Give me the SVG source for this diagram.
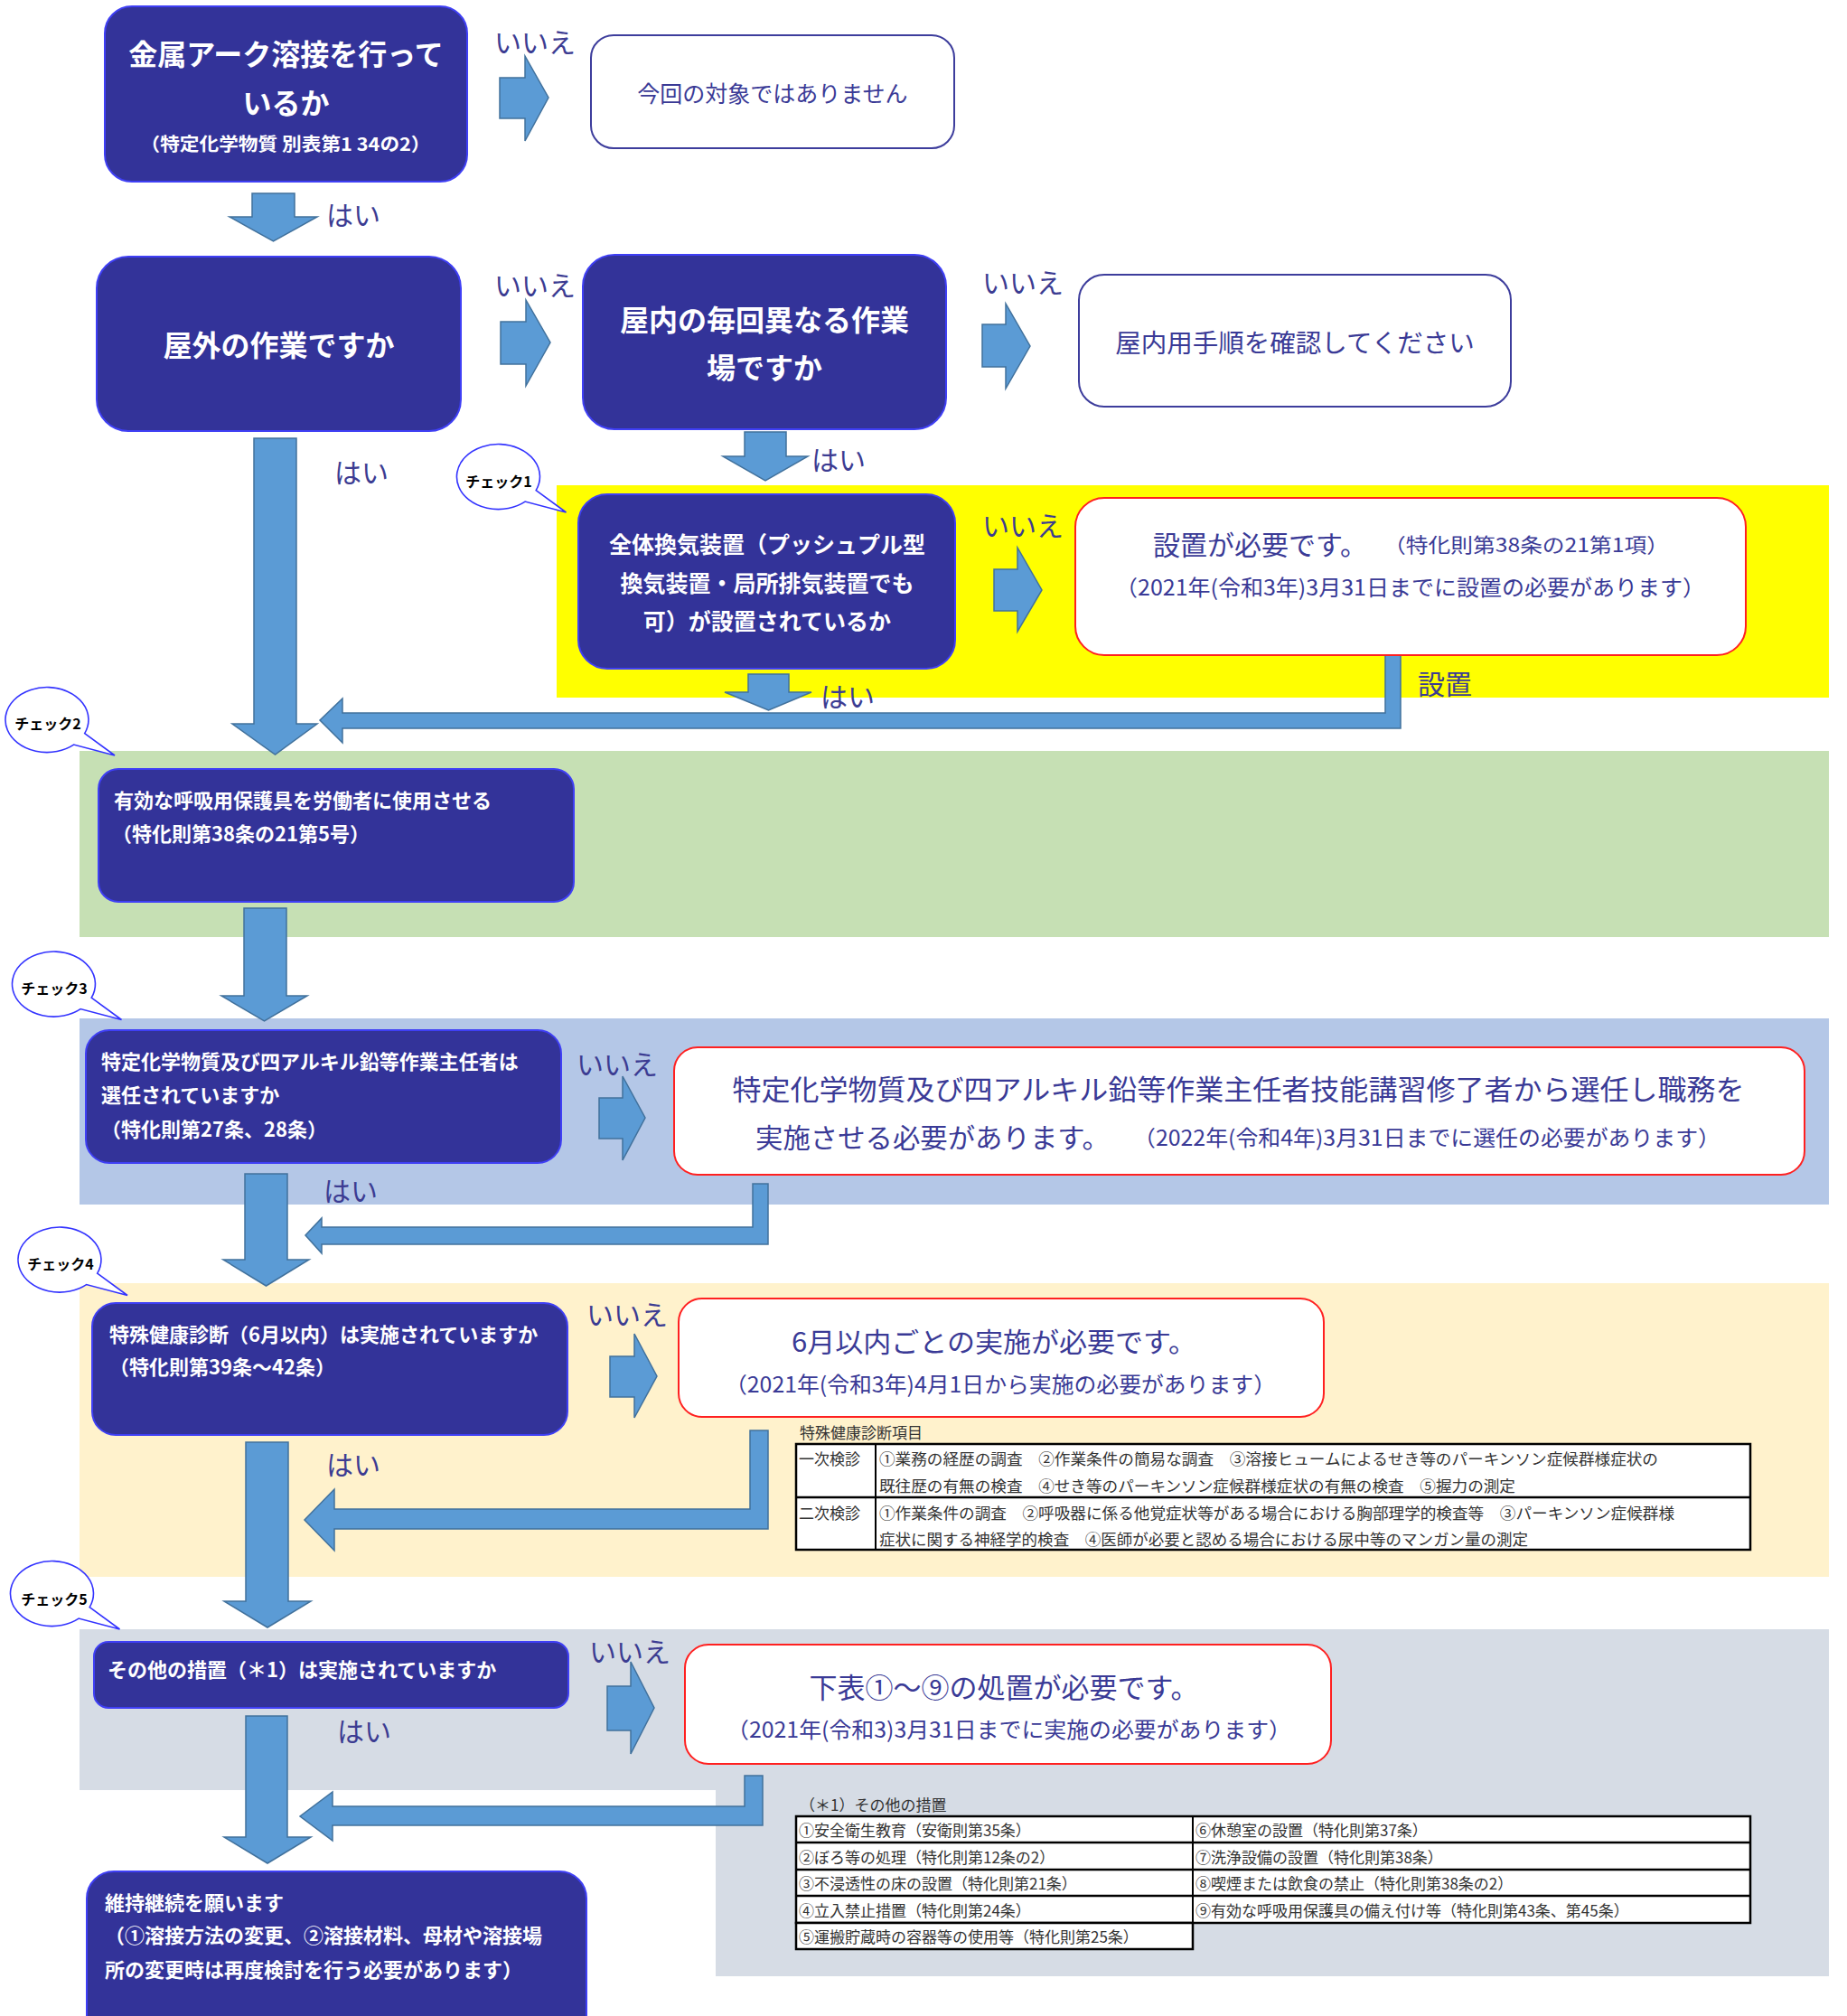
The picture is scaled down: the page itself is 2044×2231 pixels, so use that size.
<svg xmlns="http://www.w3.org/2000/svg" width="2044" height="2231" viewBox="0 0 2044 2231">
<style>
text{font-family:"Noto Sans CJK JP","Noto Sans",sans-serif;dominant-baseline:central}
.nb{fill:#333399;stroke:#3f3ff5;stroke-width:2}
.wb{fill:#fff;stroke:#3d3d9c;stroke-width:2}
.rb{fill:#fff;stroke:#ff2020;stroke-width:2}
.arr{fill:#5b9bd5;stroke:#41719c;stroke-width:1.5}
.wt{fill:#fff;font-weight:bold}
.bt{fill:#3a3a96}
.lb{fill:#3c3c92;font-size:30px}
.bub{fill:#fff;stroke:#3333ff;stroke-width:1.6}
.bubt{fill:#000;font-weight:bold;font-size:16px;text-anchor:middle}
.tb{fill:#fff;stroke:#000;stroke-width:2.5}
.tt{fill:#333;font-size:17px}
.m{text-anchor:middle}
</style>
<defs>
<path id="bubble" d="M41.7,15.2 L75,39.5 L29.6,27.6 A46,36 0 1 1 41.7,15.2 Z"/>
</defs>
<rect width="2044" height="2231" fill="#fff"/>
<g id="bands">
<rect x="616" y="537" width="1408" height="235" fill="#ffff00"/>
<rect x="88" y="831" width="1936" height="206" fill="#c6e0b4"/>
<rect x="88" y="1127" width="1936" height="206" fill="#b4c7e7"/>
<rect x="88" y="1420" width="1936" height="325" fill="#fff2cc"/>
<rect x="88" y="1803" width="1936" height="178" fill="#d6dce5"/>
<rect x="792" y="1803" width="1232" height="384" fill="#d6dce5"/>
</g>
<g id="connectors">
<polygon class="arr" points="553,86 581,86 581,62 607,108 581,156 581,131 553,131"/>
<polygon class="arr" points="279,214 326,214 326,240 351,240 302.5,267 254,240 279,240"/>
<polygon class="arr" points="554,356 582,356 582,332 609,379 582,427 582,403 554,403"/>
<polygon class="arr" points="1087,359 1113,359 1113,336 1140,383 1113,430 1113,406 1087,406"/>
<polygon class="arr" points="824,478 870,478 870,505 894,505 847,532 800,505 824,505"/>
<polygon class="arr" points="281,485 328,485 328,801 351,801 304.5,835 257,801 281,801"/>
<polygon class="arr" points="1100,630 1126,630 1126,606 1153,653 1126,699 1126,676 1100,676"/>
<polygon class="arr" points="828,746 873,746 873,766 898,766 850.5,786 802,766 828,766"/>
<polygon class="arr" points="1533,725 1550,725 1550,806 379,806 379,822 354,797 379,773 379,789 1533,789"/>
<polygon class="arr" points="270,1005 317,1005 317,1102 340,1102 292.5,1130 245,1102 270,1102"/>
<polygon class="arr" points="663,1215 689,1215 689,1191 714,1237 689,1284 689,1260 663,1260"/>
<polygon class="arr" points="271,1299 318,1299 318,1394 342,1394 294.5,1423 247,1394 271,1394"/>
<polygon class="arr" points="833,1310 850,1310 850,1377 356,1377 356,1387 338,1367 356,1348 356,1358 833,1358"/>
<polygon class="arr" points="675,1501 702,1501 702,1476 727,1523 702,1569 702,1546 675,1546"/>
<polygon class="arr" points="272,1596 319,1596 319,1772 344,1772 296,1801 248,1772 272,1772"/>
<polygon class="arr" points="830,1583 850,1583 850,1692 370,1692 370,1716 337,1682 370,1648 370,1670 830,1670"/>
<polygon class="arr" points="672,1866 698,1866 698,1839 724,1890 698,1941 698,1915 672,1915"/>
<polygon class="arr" points="272,1899 318,1899 318,2033 344,2033 296,2062 248,2033 272,2033"/>
<polygon class="arr" points="824,1965 844,1965 844,2020 368,2020 368,2037 332,2010 368,1983 368,1999 824,1999"/>
<text class="lb" x="547" y="45">いいえ</text>
<text class="lb" x="361" y="236">はい</text>
<text class="lb" x="547" y="314">いいえ</text>
<text class="lb" x="1087" y="311">いいえ</text>
<text class="lb" x="370" y="521">はい</text>
<text class="lb" x="898" y="507">はい</text>
<text class="lb" x="1087" y="580">いいえ</text>
<text class="lb" x="908" y="769">はい</text>
<text class="lb" x="1569" y="755">設置</text>
<text class="lb" x="638" y="1176">いいえ</text>
<text class="lb" x="358" y="1316">はい</text>
<text class="lb" x="649" y="1453">いいえ</text>
<text class="lb" x="361" y="1619">はい</text>
<text class="lb" x="652" y="1826">いいえ</text>
<text class="lb" x="373" y="1914">はい</text>
</g>
<g id="n-arc">
<rect class="nb" x="116" y="7" width="401" height="194" rx="30"/>
<text class="wt m" x="316.5" y="58" font-size="32">金属アーク溶接を行って</text>
<text class="wt m" x="316.5" y="112" font-size="32">いるか</text>
<text class="wt m" x="316" y="158" font-size="20" textLength="321" lengthAdjust="spacingAndGlyphs">（特定化学物質 別表第1 34の2）</text>
</g>
<g id="n-notarget">
<rect class="wb" x="654" y="39" width="402" height="125" rx="25"/>
<text class="bt m" x="855" y="102" font-size="25">今回の対象ではありません</text>
</g>
<g id="n-outdoor">
<rect class="nb" x="107" y="284" width="403" height="193" rx="35"/>
<text class="wt m" x="308.5" y="380" font-size="32">屋外の作業ですか</text>
</g>
<g id="n-indoor">
<rect class="nb" x="645" y="282" width="402" height="193" rx="35"/>
<text class="wt m" x="846" y="352" font-size="32">屋内の毎回異なる作業</text>
<text class="wt m" x="846" y="405" font-size="32">場ですか</text>
</g>
<g id="n-indoorproc">
<rect class="wb" x="1194" y="304" width="478" height="146" rx="28"/>
<text class="bt m" x="1433" y="377" font-size="28.5">屋内用手順を確認してください</text>
</g>
<g id="check1">
<use href="#bubble" class="bub" transform="translate(551.5,527.5)"/>
<text class="bubt" x="552" y="532">チェック1</text>
</g>
<g id="n-vent">
<rect class="nb" x="640" y="547" width="417" height="193" rx="32"/>
<text class="wt m" x="849" y="601" font-size="25">全体換気装置（プッシュプル型</text>
<text class="wt m" x="849" y="644" font-size="25">換気装置・局所排気装置でも</text>
<text class="wt m" x="849" y="686" font-size="25">可）が設置されているか</text>
</g>
<g id="n-vent-need">
<rect class="rb" x="1190" y="551" width="742" height="174" rx="32"/>
<text class="bt" x="1276" y="601" font-size="30">設置が必要です。</text>
<text class="bt" x="1531" y="601" font-size="22" textLength="316" lengthAdjust="spacingAndGlyphs">（特化則第38条の21第1項）</text>
<text class="bt m" x="1560.5" y="648" font-size="24" textLength="653" lengthAdjust="spacingAndGlyphs">（2021年(令和3年)3月31日までに設置の必要があります）</text>
</g>
<g id="check2">
<use href="#bubble" class="bub" transform="translate(52,796.5)"/>
<text class="bubt" x="53" y="800">チェック2</text>
</g>
<g id="n-resp">
<rect class="nb" x="109" y="851" width="526" height="147" rx="22"/>
<text class="wt" x="126" y="884" font-size="22">有効な呼吸用保護具を労働者に使用させる</text>
<text class="wt" x="124" y="921" font-size="22">（特化則第38条の21第5号）</text>
</g>
<g id="check3">
<use href="#bubble" class="bub" transform="translate(59.5,1089)"/>
<text class="bubt" x="60" y="1093">チェック3</text>
</g>
<g id="n-chief">
<rect class="nb" x="95" y="1140" width="526" height="147" rx="26"/>
<text class="wt" x="112" y="1173" font-size="22">特定化学物質及び四アルキル鉛等作業主任者は</text>
<text class="wt" x="112" y="1210" font-size="22">選任されていますか</text>
<text class="wt" x="112" y="1248" font-size="22">（特化則第27条、28条）</text>
</g>
<g id="n-chief-need">
<rect class="rb" x="746" y="1159" width="1251" height="141" rx="26"/>
<text class="bt m" x="1370.5" y="1203" font-size="31" textLength="1120" lengthAdjust="spacingAndGlyphs">特定化学物質及び四アルキル鉛等作業主任者技能講習修了者から選任し職務を</text>
<text class="bt" x="836" y="1257" font-size="30" textLength="392" lengthAdjust="spacingAndGlyphs">実施させる必要があります。</text>
<text class="bt" x="1254" y="1257" font-size="24" textLength="650" lengthAdjust="spacingAndGlyphs">（2022年(令和4年)3月31日までに選任の必要があります）</text>
</g>
<g id="check4">
<use href="#bubble" class="bub" transform="translate(66,1394)"/>
<text class="bubt" x="67" y="1398">チェック4</text>
</g>
<g id="n-health">
<rect class="nb" x="102" y="1442" width="526" height="146" rx="26"/>
<text class="wt" x="121" y="1475" font-size="22">特殊健康診断（6月以内）は実施されていますか</text>
<text class="wt" x="121" y="1511" font-size="22">（特化則第39条～42条）</text>
</g>
<g id="n-health-need">
<rect class="rb" x="751" y="1437" width="714" height="131" rx="26"/>
<text class="bt m" x="1100" y="1483" font-size="30" textLength="448" lengthAdjust="spacingAndGlyphs">6月以内ごとの実施が必要です。</text>
<text class="bt m" x="1107" y="1530" font-size="24" textLength="610" lengthAdjust="spacingAndGlyphs">（2021年(令和3年)4月1日から実施の必要があります）</text>
</g>
<g id="table-health">
<text class="tt" x="885" y="1584">特殊健康診断項目</text>
<rect class="tb" x="881" y="1598" width="1056" height="117"/>
<line x1="881" y1="1657" x2="1937" y2="1657" stroke="#000" stroke-width="2.5"/>
<line x1="969" y1="1598" x2="969" y2="1715" stroke="#000" stroke-width="2"/>
<text class="tt" x="884" y="1613">一次検診</text>
<text class="tt" x="884" y="1673">二次検診</text>
<text class="tt" x="973" y="1613" textLength="862" lengthAdjust="spacingAndGlyphs">①業務の経歴の調査　②作業条件の簡易な調査　③溶接ヒュームによるせき等のパーキンソン症候群様症状の</text>
<text class="tt" x="973" y="1643" textLength="704" lengthAdjust="spacingAndGlyphs">既往歴の有無の検査　④せき等のパーキンソン症候群様症状の有無の検査　⑤握力の測定</text>
<text class="tt" x="973" y="1673" textLength="880" lengthAdjust="spacingAndGlyphs">①作業条件の調査　②呼吸器に係る他覚症状等がある場合における胸部理学的検査等　③パーキンソン症候群様</text>
<text class="tt" x="973" y="1702" textLength="718" lengthAdjust="spacingAndGlyphs">症状に関する神経学的検査　④医師が必要と認める場合における尿中等のマンガン量の測定</text>
</g>
<g id="check5">
<use href="#bubble" class="bub" transform="translate(57.5,1763.5)"/>
<text class="bubt" x="60" y="1769">チェック5</text>
</g>
<g id="n-other">
<rect class="nb" x="104" y="1817" width="525" height="73" rx="16"/>
<text class="wt" x="119" y="1846" font-size="22">その他の措置（＊1）は実施されていますか</text>
</g>
<g id="n-other-need">
<rect class="rb" x="758" y="1820" width="715" height="132" rx="26"/>
<text class="bt m" x="1111" y="1865" font-size="31">下表①～⑨の処置が必要です。</text>
<text class="bt m" x="1116.5" y="1912" font-size="24" textLength="625" lengthAdjust="spacingAndGlyphs">（2021年(令和3)3月31日までに実施の必要があります）</text>
</g>
<g id="table-other">
<text class="tt" x="885" y="1996">（＊1）その他の措置</text>
<rect class="tb" x="881" y="2010" width="1056" height="118"/>
<rect class="tb" x="881" y="2128" width="439" height="29"/>
<line x1="881" y1="2039" x2="1937" y2="2039" stroke="#000" stroke-width="2.5"/>
<line x1="881" y1="2069" x2="1937" y2="2069" stroke="#000" stroke-width="2.5"/>
<line x1="881" y1="2098" x2="1937" y2="2098" stroke="#000" stroke-width="2.5"/>
<line x1="1320" y1="2010" x2="1320" y2="2128" stroke="#000" stroke-width="2"/>
<text class="tt" x="884" y="2024">①安全衛生教育（安衛則第35条）</text>
<text class="tt" x="884" y="2054">②ぼろ等の処理（特化則第12条の2）</text>
<text class="tt" x="884" y="2083">③不浸透性の床の設置（特化則第21条）</text>
<text class="tt" x="884" y="2113">④立入禁止措置（特化則第24条）</text>
<text class="tt" x="884" y="2142">⑤運搬貯蔵時の容器等の使用等（特化則第25条）</text>
<text class="tt" x="1323" y="2024">⑥休憩室の設置（特化則第37条）</text>
<text class="tt" x="1323" y="2054">⑦洗浄設備の設置（特化則第38条）</text>
<text class="tt" x="1323" y="2083">⑧喫煙または飲食の禁止（特化則第38条の2）</text>
<text class="tt" x="1323" y="2113">⑨有効な呼吸用保護具の備え付け等（特化則第43条、第45条）</text>
</g>
<g id="n-maintain">
<rect class="nb" x="96" y="2071" width="553" height="200" rx="30"/>
<text class="wt" x="116" y="2104" font-size="22">維持継続を願います</text>
<text class="wt" x="116" y="2140" font-size="22">（①溶接方法の変更、②溶接材料、母材や溶接場</text>
<text class="wt" x="116" y="2178" font-size="22">所の変更時は再度検討を行う必要があります）</text>
</g>
</svg>
